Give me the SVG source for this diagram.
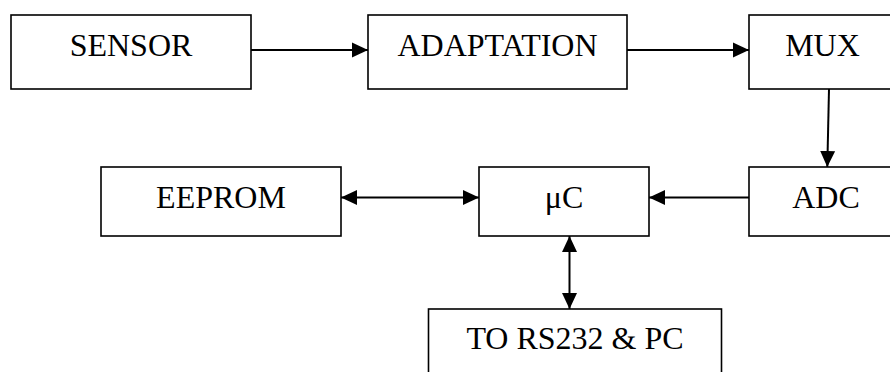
<svg xmlns="http://www.w3.org/2000/svg" width="890" height="372" viewBox="0 0 890 372">
<style>
.box{fill:#fff;stroke:#000;stroke-width:1.6}
.lbl{font-family:"Liberation Serif","Times New Roman",serif;font-size:32px;fill:#000;text-anchor:middle}
.con{stroke:#000;stroke-width:2;fill:none}
</style>
<defs>
<marker id="ah" viewBox="0 0 16 16" refX="16" refY="8" markerWidth="16" markerHeight="16" markerUnits="userSpaceOnUse" orient="auto-start-reverse">
<path d="M0,0.5 L16,8 L0,15.5 Z" fill="#000"/>
</marker>
</defs>
<rect width="890" height="372" fill="#fff"/>
<g id="sensor"><rect class="box" x="11" y="15" width="240" height="74"/><text class="lbl" x="131" y="56">SENSOR</text></g>
<g id="adaptation"><rect class="box" x="368" y="15" width="259" height="74"/><text class="lbl" x="497.5" y="56">ADAPTATION</text></g>
<g id="mux"><rect class="box" x="749" y="15" width="148" height="74"/><text class="lbl" x="822.5" y="56">MUX</text></g>
<g id="adc"><rect class="box" x="749" y="167" width="154" height="69"/><text class="lbl" x="826" y="208">ADC</text></g>
<g id="uc"><rect class="box" x="479" y="167" width="170" height="69"/><text class="lbl" x="564" y="208">μC</text></g>
<g id="eeprom"><rect class="box" x="101" y="167" width="240" height="69"/><text class="lbl" x="221" y="208">EEPROM</text></g>
<g id="rs232"><rect class="box" x="428.5" y="309" width="293" height="80"/><text class="lbl" x="575" y="349">TO RS232 &amp; PC</text></g>
<g id="connectors">
<line class="con" x1="251" y1="50" x2="368" y2="50" marker-end="url(#ah)"/>
<line class="con" x1="627" y1="50" x2="749" y2="50" marker-end="url(#ah)"/>
<line class="con" x1="829" y1="89" x2="827.3" y2="167" marker-end="url(#ah)"/>
<line class="con" x1="749" y1="197.5" x2="649" y2="197.5" marker-end="url(#ah)"/>
<line class="con" x1="341" y1="197.5" x2="479" y2="197.5" marker-start="url(#ah)" marker-end="url(#ah)"/>
<line class="con" x1="569.5" y1="236" x2="569.5" y2="309" marker-start="url(#ah)" marker-end="url(#ah)"/>
</g>
</svg>
